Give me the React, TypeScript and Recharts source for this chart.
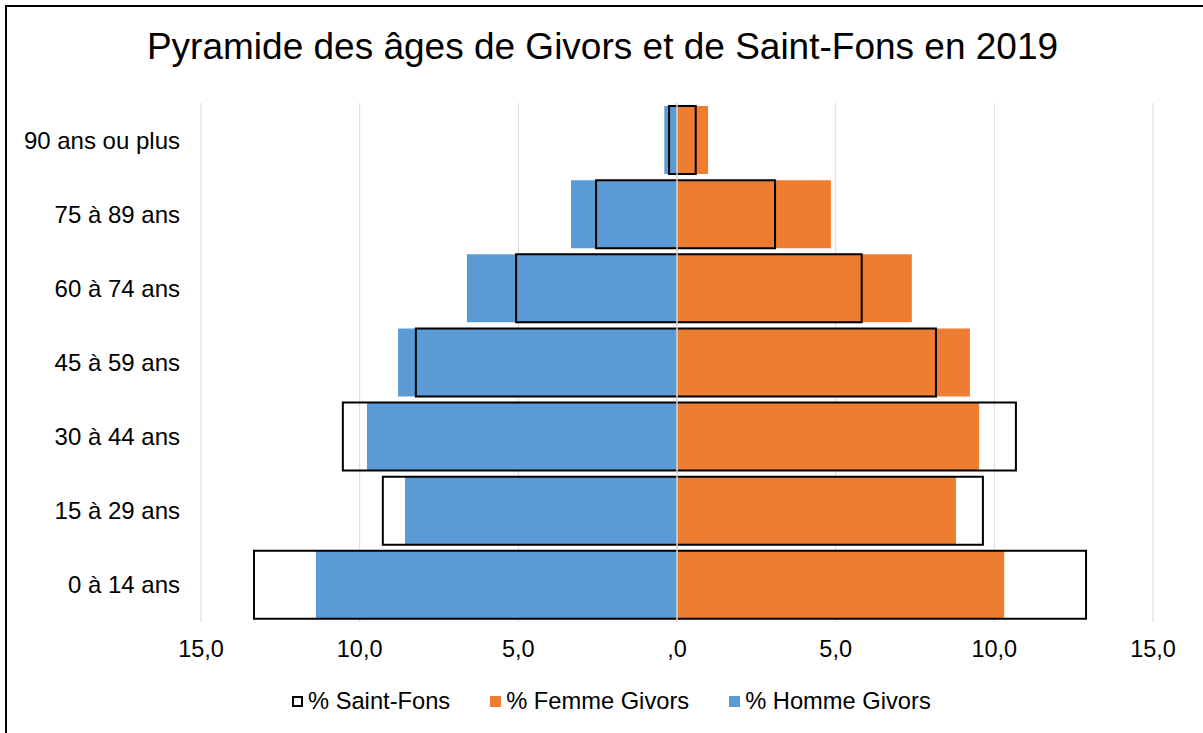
import { BarChart, Bar, XAxis, YAxis, CartesianGrid, ReferenceLine } from 'recharts';

const categories = ['90 ans ou plus', '75 à 89 ans', '60 à 74 ans', '45 à 59 ans', '30 à 44 ans', '15 à 29 ans', '0 à 14 ans'];
const hommeGivors = [0.4, 3.34, 6.62, 8.79, 9.77, 8.57, 11.38];
const femmeGivors = [0.98, 4.85, 7.4, 9.23, 9.52, 8.79, 10.31];
const hommeSaintFons = [0.25, 2.55, 5.07, 8.23, 10.53, 9.27, 13.33];
const femmeSaintFons = [0.59, 3.09, 5.82, 8.16, 10.68, 9.64, 12.89];
const xTicks = [-15, -10, -5, 0, 5, 10, 15];

const data = categories.map((name, i) => ({
  name,
  homme: -hommeGivors[i],
  femme: femmeGivors[i],
  sf: [-hommeSaintFons[i], femmeSaintFons[i]],
}));

const BLUE = '#5B9BD5';
const ORANGE = '#ED7D31';
const FONT = '"Liberation Sans", Arial, sans-serif';

const formatTick = (v: number) => (v === 0 ? ',0' : Math.abs(v).toFixed(1).replace('.', ','));

const legendItems = [
  { label: '% Saint-Fons', fill: '#fff', border: '2px solid #000' },
  { label: '% Femme Givors', fill: ORANGE, border: 'none' },
  { label: '% Homme Givors', fill: BLUE, border: 'none' },
];

export default function App() {
  return (
    <div
      style={{
        position: 'absolute',
        left: 5,
        top: 5,
        width: 1198,
        height: 728,
        borderLeft: '2px solid #000',
        borderTop: '2px solid #000',
        boxSizing: 'border-box',
        background: '#fff',
        fontFamily: FONT,
        color: '#000',
      }}
    >
      <div
        style={{
          position: 'absolute',
          left: 0,
          top: 21,
          width: 1191,
          textAlign: 'center',
          fontSize: 37,
          lineHeight: 1,
        }}
      >
        Pyramide des âges de Givors et de Saint-Fons en 2019
      </div>
      <div style={{ position: 'absolute', left: 0, top: 0 }}>
        <BarChart
          width={1196}
          height={726}
          data={data}
          layout="vertical"
          stackOffset="sign"
          margin={{ top: 96, right: 50, left: 0, bottom: 81 }}
        >
          <CartesianGrid horizontal={false} stroke="#d9d9d9" />
          <XAxis
            type="number"
            domain={[-15, 15]}
            ticks={xTicks}
            tickFormatter={formatTick}
            axisLine={false}
            tickLine={false}
            tickMargin={12}
            tick={{ fontSize: 23.5, fill: '#000', fontFamily: FONT }}
          />
          <YAxis
            yAxisId="g"
            type="category"
            dataKey="name"
            width={194}
            axisLine={false}
            tickLine={false}
            tickMargin={15}
            tick={{ fontSize: 24, fill: '#000', fontFamily: FONT }}
          />
          <YAxis yAxisId="s" type="category" dataKey="name" hide />
          <Bar yAxisId="g" dataKey="homme" stackId="g" fill={BLUE} barSize={68} isAnimationActive={false} name="% Homme Givors" />
          <Bar yAxisId="g" dataKey="femme" stackId="g" fill={ORANGE} barSize={68} isAnimationActive={false} name="% Femme Givors" />
          <Bar
            yAxisId="s"
            dataKey="sf"
            fill="transparent"
            stroke="#000"
            strokeWidth={2}
            barSize={68}
            isAnimationActive={false}
            name="% Saint-Fons"
          />
          <ReferenceLine yAxisId="g" x={0} stroke="#d9d9d9" strokeWidth={1.5} />
        </BarChart>
      </div>
      <div
        style={{
          position: 'absolute',
          left: 285,
          top: 683,
          display: 'flex',
          alignItems: 'center',
          fontSize: 23.7,
          lineHeight: 1,
        }}
      >
        {legendItems.map((item, i) => (
          <div key={item.label} style={{ display: 'flex', alignItems: 'center', marginLeft: i === 0 ? 0 : 40 }}>
            <span
              style={{
                display: 'inline-block',
                width: 11,
                height: 11,
                background: item.fill,
                border: item.border,
                boxSizing: 'border-box',
                marginRight: 5,
              }}
            />
            <span>{item.label}</span>
          </div>
        ))}
      </div>
    </div>
  );
}
